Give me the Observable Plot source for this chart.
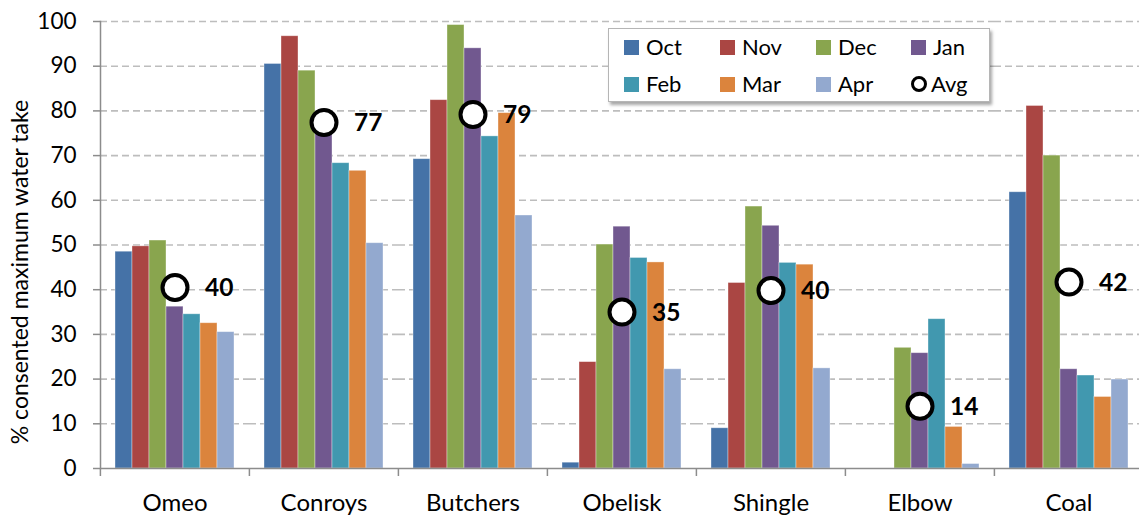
<!DOCTYPE html>
<html>
<head>
<meta charset="utf-8">
<script src="https://cdn.jsdelivr.net/npm/d3@7"></script>
<script src="https://cdn.jsdelivr.net/npm/@observablehq/plot@0.6"></script>
<style>
  html, body { margin: 0; padding: 0; background: #fff; }
  #wrap { position: relative; width: 1139px; height: 516px; font-family: Lato, "Open Sans", sans-serif; overflow: hidden; }
  #ylabel { position: absolute; left: 19px; top: 272px; transform: translate(-50%, -50%) rotate(-90deg); white-space: nowrap; font-size: 23px; color: #000; }
  #legend { position: absolute; left: 608px; top: 28px; width: 380px; height: 72px; background: #fff; border: 1.5px solid #b5b5b5; box-shadow: 2px 3px 3px rgba(0,0,0,0.35); }
  .li { position: absolute; font-size: 22px; line-height: 22px; display: flex; align-items: center; }
  .sw { width: 15px; height: 15px; margin-right: 7px; }
  .av { width: 10px; height: 10px; border: 3px solid #000; border-radius: 50%; margin-right: 4px; box-sizing: content-box; }
</style>
</head>
<body>
<div id="wrap"></div>
<script>
// ---- data ----
const groups = ["Omeo", "Conroys", "Butchers", "Obelisk", "Shingle", "Elbow", "Coal"];
const months = ["Oct", "Nov", "Dec", "Jan", "Feb", "Mar", "Apr"];
const octVals = [48.5, 90.5, 69.2, 1.3, 9.0, 0, 61.8];
const novVals = [49.7, 96.7, 82.4, 23.8, 41.5, 0, 81.1];
const decVals = [51.0, 89.0, 99.2, 50.1, 58.6, 27.0, 70.0];
const janVals = [36.2, 77.0, 94.0, 54.1, 54.3, 25.8, 22.2];
const febVals = [34.5, 68.3, 74.3, 47.1, 46.0, 33.4, 20.8];
const marVals = [32.5, 66.6, 79.5, 46.1, 45.6, 9.3, 16.0];
const aprVals = [30.5, 50.4, 56.6, 22.2, 22.4, 1.0, 19.9];
const avgVals = [40.5, 77.4, 79.2, 35.0, 39.8, 13.9, 41.7];
const avgLabels = ["40", "77", "79", "35", "40", "14", "42"];
const yTicks = [0, 10, 20, 30, 40, 50, 60, 70, 80, 90, 100];
const colors = ["#4572A7", "#AA4643", "#89A54E", "#71588F", "#4198AF", "#DB843D", "#93A9CF"];
const yTitle = "% consented maximum water take";

// ---- tables ----
const series = [octVals, novVals, decVals, janVals, febVals, marVals, aprVals];
const bars = [];
groups.forEach((g, gi) => months.forEach((m, mi) => bars.push({group: g, month: m, value: series[mi][gi]})));
const avgs = groups.map((g, i) => ({group: g, month: "Jan", avg: avgVals[i], label: avgLabels[i]}));

const left = 99.6, bandW = 149.2;
const font = "Lato, 'Open Sans', sans-serif";

const chart = Plot.plot({
  width: 1139,
  height: 516,
  marginTop: 21,
  marginBottom: 48,
  marginLeft: 100,
  marginRight: 0,
  style: {fontFamily: font, background: "transparent", overflow: "visible"},
  fx: {domain: groups, range: [left, left + groups.length * bandW], padding: 0, label: null},
  x: {domain: months, paddingInner: 0, paddingOuter: 0.74, axis: null},
  y: {domain: [0, 100], label: null},
  color: {domain: months, range: colors},
  marks: [
    Plot.gridY(yTicks.filter(t => t > 0), {stroke: "#bdbdbd", strokeOpacity: 1, strokeWidth: 1.6, strokeDasharray: "7,4"}),
    Plot.barY(bars, {fx: "group", x: "month", y: "value", fill: "month", stroke: "#fff", strokeOpacity: 0.45, strokeWidth: 0.8}),
    Plot.ruleY([0], {stroke: "#8c8c8c", strokeWidth: 1.5}),
    Plot.frame({anchor: "left", facetAnchor: "left", stroke: "#8c8c8c", strokeWidth: 1.5}),
    Plot.axisY(yTicks, {anchor: "left", tickSize: 7, tickPadding: 17, fontSize: 22.5, stroke: "#8c8c8c", strokeWidth: 1.5, label: null, color: "#000"}),
    Plot.axisFx({anchor: "bottom", tickSize: 0, tickPadding: 25, fontSize: 24, label: null}),
    Plot.axisFx({anchor: "bottom", tickSize: 8, tickFormat: () => "", dx: -bandW / 2, stroke: "#8c8c8c", strokeWidth: 1.5, label: null}),
    Plot.dot(avgs, {fx: "group", x: "month", y: "avg", r: 12.5, fill: "#fff", stroke: "#000", strokeWidth: 4}),
    Plot.text(avgs, {fx: "group", x: "month", y: "avg", text: "label", dx: 30, dy: 1, textAnchor: "start", fontWeight: "bold", fontSize: 24.5, fill: "#000"})
  ]
});

const wrap = document.getElementById("wrap");
wrap.appendChild(chart);

const yl = document.createElement("div");
yl.id = "ylabel";
yl.textContent = yTitle;
wrap.appendChild(yl);

// legend
const leg = document.createElement("div");
leg.id = "legend";
const colX = [15, 111, 207, 302];
const rowY = [7, 44];
const items = months.map((m, i) => ({label: m, color: colors[i]})).concat([{label: "Avg", avg: true}]);
items.forEach((it, i) => {
  const d = document.createElement("div");
  d.className = "li";
  d.style.left = colX[i % 4] + "px";
  d.style.top = rowY[Math.floor(i / 4)] + "px";
  const s = document.createElement("span");
  if (it.avg) { s.className = "av"; }
  else { s.className = "sw"; s.style.background = it.color; }
  d.appendChild(s);
  const t = document.createElement("span");
  t.textContent = it.label;
  d.appendChild(t);
  leg.appendChild(d);
});
wrap.appendChild(leg);
</script>
</body>
</html>
